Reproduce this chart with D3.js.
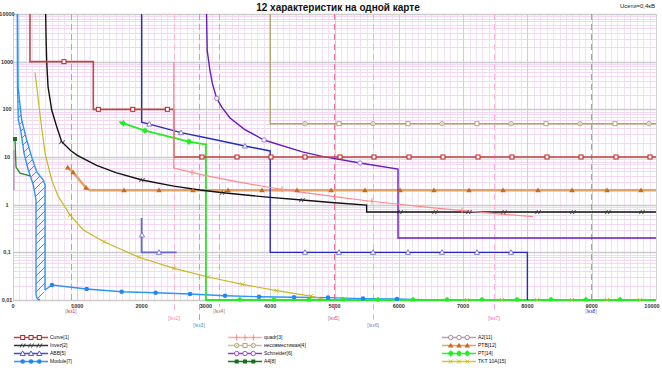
<!DOCTYPE html>
<html><head><meta charset="utf-8">
<script src="https://cdn.jsdelivr.net/npm/d3@7"></script>
<style>html,body{margin:0;padding:0;background:#fff;} svg{display:block;font-family:"Liberation Sans",Arial,sans-serif;}</style>
</head><body><svg id="c" width="662" height="372"></svg>
<script>
// ---------------- DATA ----------------
const TITLE = "12 характеристик на одной карте";
const SUBTITLE = "Uсети=0,4кВ";
const X_TICKS = [0,1000,2000,3000,4000,5000,6000,7000,8000,9000,10000];
const X_LABELS = ["0","1000","2000","3000","4000","5000","6000","7000","8000","9000","10000"];
const Y_TICKS = [0.01,0.1,1,10,100,1000,10000];
const Y_LABELS = ["0,01","0,1","1","10","100","1000","10000"];
const IKZ_NAMES = ["Iкз1","Iкз2","Iкз3","Iкз4","Iкз5","Iкз6","Iкз7","Iкз8"];
const IKZ_VALUES = [902,2504,2893,3204,4985,5600,7480,8990];

const curve1 = [[264,10000],[264,1000],[1249,1000],[1249,100],[2500,100],[2500,10],[10000,10]];
const curve1M = [[793,1000],[1327,100],[1862,100],[2400,100],[2939,10],[3484,10],[4012,10],[4541,10],[5086,10],[5614,10],[6159,10],[6687,10],[7232,10],[7760,10],[8305,10],[8834,10],[9378,10],[9907,10]];
const inverz2 = [[508,10000],[515,3000],[524,1000],[545,300],[602,96.6],[680,43],[757,21],[900,13.5],[1000,10.8],[1300,6.7],[1600,4.7],[2006,3.29],[2500,2.45],[2908,2.03],[3266,1.78],[3500,1.65],[4000,1.42],[4494,1.25],[5000,1.1],[5500,0.98],[5500,0.7],[10000,0.7]];
const inverz2M = [[762,20.5],[2006,3.29],[3266,1.78],[4494,1.25],[6019,0.7],[6563,0.7],[7092,0.7],[7636,0.7],[8165,0.7],[8709,0.7],[9253,0.7],[9782,0.7]];
const quadr3 = [[2500,1000],[2500,5.87],[3000,4.08],[3500,3.0],[4000,2.29],[4500,1.81],[5000,1.47],[5500,1.21],[6000,1.02],[6500,0.87],[7000,0.75],[7500,0.65],[8087,0.56]];
const quadr3M = [[2784,4.74],[4184,2.10],[5583,1.18],[6983,0.75]];
const nesov4 = [[4000,10000],[4000,50],[10000,50]];
const nesov4M = [[4541,50],[5070,50],[5599,50],[6143,50],[6672,50],[7216,50],[7745,50],[8289,50],[8818,50],[9362,50],[9891,50]];
const abb5 = [[2000,10000],[2000,54],[2120,49],[2613,32.4],[3000,25.3],[3608,17],[4000,13.4],[4000,0.1],[8000,0.1],[8000,0.01]];
const abb5b = [[2000,0.525],[2000,0.1],[2545,0.1]];
const abb5M = [[2120,49],[2613,32.4],[3608,17],[2006,0.231],[2271,0.1],[4541,0.1],[5070,0.1],[5599,0.1],[6143,0.1],[6672,0.1],[7216,0.1],[7745,0.1]];
const schneider6 = [[3010,10000],[3020,1750],[3060,700],[3100,350],[3168,170],[3250,110],[3375,65.8],[3600,38],[3904,22.7],[4500,12.8],[4826,10.2],[5397,7.48],[5988,5.6],[5988,0.2],[10000,0.2]];
const schneider6M = [[3168,170],[3904,22.7],[5397,7.48]];
const module7 = [[498,0.0162],[606,0.0207],[1146,0.017],[1690,0.0149],[2219,0.0142],[2753,0.0134],[3297,0.0123],[3826,0.0117],[4370,0.0114],[4899,0.0112],[5443,0.0107],[5972,0.0105],[6516,0.01]];
const module7M = [[606,0.0207],[1146,0.017],[1690,0.0149],[2219,0.0142],[2753,0.0134],[3297,0.0123],[3826,0.0117],[4370,0.0114],[4899,0.0112],[5443,0.0107],[5972,0.0105]];
const module7Min = [[67,10000],[70,300],[82,60],[120,36.8],[171,12.1],[238,5.33],[316,2.58],[358,1.25],[358,0.0127],[380,0.0105],[420,0.01]];
const module7Max = [[72,10000],[78,300],[135,59.7],[213,22.7],[291,10],[369,4.84],[471,3.29],[498,2.6],[498,0.0162]];
const a4_8 = [[31,23.8],[47,6.17],[109,4.6],[264,4.0]];
const a4_8M = [[31,23.8]];
const a2_11 = [[15,14],[15,2]];
const a2_11M = [];
const ptb12 = [[851,6.0],[933,4.8],[1135,2.26],[1200,2],[10000,2]];
const ptb12M = [[851,6.0],[933,4.8],[1135,2.26],[1726,2],[2271,2],[2799,2],[3344,2],[3872,2],[4417,2],[4946,2],[5474,2],[6019,2],[6547,2],[7092,2],[7621,2],[8165,2],[8694,2],[9238,2],[9767,2]];
const pt14 = [[1653,54.9],[1715,50.8],[2053,35.6],[2737,20.9],[2986,18.5],[3000,18.5],[3000,0.01],[10000,0.01]];
const pt14M = [[1715,50.8],[2053,35.6],[2737,20.9],[3530,0.01],[4059,0.01],[4603,0.01],[5132,0.01],[5677,0.01],[6221,0.01],[6750,0.01],[7294,0.01],[7838,0.01],[8367,0.01],[8911,0.01],[9440,0.01]];
const tkt15 = [[342,598],[431,59.7],[498,12.1],[602,3.29],[705,1.47],[886,0.607],[1093,0.294],[1415,0.167],[1960,0.0787],[2504,0.0462],[3037,0.0304],[3566,0.0213],[4101,0.0157],[4635,0.0121],[4879,0.01],[10000,0.01]];
const tkt15M = [[886,0.607],[1415,0.167],[1960,0.0787],[2504,0.0462],[3037,0.0304],[3566,0.0213],[4101,0.0157],[4635,0.0121],[7060,0.01],[7605,0.01],[8150,0.01],[8694,0.01],[9238,0.01],[9751,0.01]];

const LEGEND_NAMES = ["Curve[1]","Invez[2]","ABB[5]","Module[7]","quadr[3]","несовместимая[4]","Schneider[6]","A4[8]","A2[11]","PTB[12]","PT[14]","TKT 10A[15]"];

// ---------------- STYLE ----------------
const svg = d3.select('#c');
const L=13,R=656,T=14,B=300;
const x = d3.scaleLinear().domain([0,10000]).range([L,R]);
const y = d3.scaleLog().domain([0.01,10000]).range([B,T]);
const px = v => Math.round(x(v))+0.5;
const py = v => Math.round(y(v))+0.5;

const defs = svg.append('defs');
defs.append('clipPath').attr('id','clip').append('rect').attr('x',L).attr('y',T-1).attr('width',R-L+2).attr('height',B-T+2.5);
const pat = defs.append('pattern').attr('id','hatch').attr('patternUnits','userSpaceOnUse').attr('width',8).attr('height',8);
pat.append('path').attr('d','M-2,2 L2,-2 M0,8 L8,0 M6,10 L10,6').attr('stroke','#2d95f5').attr('stroke-width',1);

// grid
const gGrid = svg.append('g');
const minorX = d3.range(100,10000,100).filter(v=>v%1000!==0);
gGrid.selectAll('.mx').data(minorX).join('line').attr('x1',px).attr('x2',px).attr('y1',T).attr('y2',B).attr('stroke','#f2e0f8').attr('stroke-width',1);
const minorY=[]; Y_TICKS.slice(0,-1).forEach(d=>{for(let k=2;k<10;k++) minorY.push(d*k);});
gGrid.selectAll('.my').data(minorY).join('line').attr('x1',L).attr('x2',R).attr('y1',py).attr('y2',py).attr('stroke','#f3d8f3').attr('stroke-width',1);
gGrid.selectAll('.Mx').data(X_TICKS).join('line').attr('x1',px).attr('x2',px).attr('y1',T).attr('y2',B).attr('stroke','#d0d0d0').attr('stroke-width',1);
gGrid.selectAll('.My').data(Y_TICKS).join('line').attr('x1',L).attr('x2',R).attr('y1',py).attr('y2',py).attr('stroke','#cccccc').attr('stroke-width',1.3);

// axis labels
svg.append('g').selectAll('text').data(X_TICKS).join('text').attr('x',d=>Math.min(x(d),652)).attr('y',307.5).attr('text-anchor','middle')
  .attr('font-size',5.5).attr('font-weight','bold').attr('fill','#333').text((d,i)=>X_LABELS[i]);
svg.append('g').selectAll('text').data(Y_TICKS).join('text').attr('x',7).attr('y',d=>y(d)+2).attr('text-anchor','middle')
  .attr('font-size',5.5).attr('font-weight','bold').attr('fill','#333').text((d,i)=>Y_LABELS[i]);

// Ikz lines
const ikzStyle = [
 {c:'#f28a8a',t:'#e02a2a',row:0},{c:'#ffb6cc',t:'#ff88aa',row:1},{c:'#8fbcb6',t:'#3a9e9a',row:2},{c:'#d9b395',t:'#b4713c',row:0},
 {c:'#f2709c',t:'#ff2f86',row:1},{c:'#c4c4f2',t:'#8080e0',row:2},{c:'#ffaee6',t:'#ff60cc',row:1},{c:'#9a9af0',t:'#2828cc',row:0}];
const rowY=[310.5,318,325];
const gI = svg.append('g');
IKZ_VALUES.forEach((v,i)=>{
  const s=ikzStyle[i], xx=px(v);
  gI.append('line').attr('x1',xx).attr('x2',xx).attr('y1',T).attr('y2',rowY[s.row]-4).attr('stroke',s.c).attr('stroke-width',1).attr('stroke-dasharray','6,4');
  const t=gI.append('text').attr('x',x(v)).attr('y',rowY[s.row]+2).attr('text-anchor','middle').attr('font-size',5);
  t.append('tspan').attr('fill','#888').text('[');
  t.append('tspan').attr('fill',s.t).text(IKZ_NAMES[i]);
  t.append('tspan').attr('fill','#888').text(']');
});

// markers
function marker(g,type,cx,cy,color,idx){
  const s=g.append('g').attr('transform',`translate(${cx},${cy})`);
  switch(type){
    case 'sq': s.append('rect').attr('x',-2).attr('y',-2).attr('width',4).attr('height',4).attr('fill','#fff').attr('stroke',color).attr('stroke-width',1);break;
    case 'hash': s.append('path').attr('d','M-2.5,2 L-0.5,-2 M0.5,2 L2.5,-2').attr('stroke',color).attr('stroke-width',0.9).attr('fill','none');break;
    case 'tri': s.append('path').attr('d','M0,-2.6 L2.6,2 L-2.6,2Z').attr('fill','#fff').attr('stroke',color).attr('stroke-width',0.9);break;
    case 'dot': s.append('circle').attr('r',2.3).attr('fill',color);break;
    case 'plus': s.append('path').attr('d','M0,-3 L0,3 M-1.5,0 L1.5,0').attr('stroke',color).attr('stroke-width',1);break;
    case 'sqc': if(idx%2===0){s.append('circle').attr('r',2.2).attr('fill','#fff').attr('stroke',color).attr('stroke-width',0.9);s.append('path').attr('d','M-1.3,-1.3L1.3,1.3M-1.3,1.3L1.3,-1.3').attr('stroke',color).attr('stroke-width',0.6);}
                else s.append('rect').attr('x',-2).attr('y',-2).attr('width',4).attr('height',4).attr('fill','#fff').attr('stroke',color).attr('stroke-width',0.9);break;
    case 'circ': s.append('circle').attr('r',2.2).attr('fill','#fff').attr('stroke',color).attr('stroke-width',0.9);break;
    case 'sqf': s.append('rect').attr('x',-2).attr('y',-2).attr('width',4).attr('height',4).attr('fill',color);break;
    case 'trif': s.append('path').attr('d','M0,-2.8 L2.8,2 L-2.8,2Z').attr('fill',color);break;
    case 'star': s.append('circle').attr('r',2.4).attr('fill',color);s.append('path').attr('d','M0,-3.2L0,3.2M-3.2,0L3.2,0').attr('stroke',color).attr('stroke-width',1);break;
    case 'x': s.append('path').attr('d','M-2,-2 L2,2 M-2,2 L2,-2').attr('stroke',color).attr('stroke-width',0.9);break;
  }
}

const line = d3.line().x(d=>x(d[0])).y(d=>y(d[1]));
const gS = svg.append('g').attr('clip-path','url(#clip)');

// Module hatch area
const area = module7Min.concat(module7Max.slice().reverse());
gS.append('path').attr('d',line(area)+'Z').attr('fill','url(#hatch)').attr('stroke','none');
gS.append('path').attr('d',line(module7Min)).attr('fill','none').attr('stroke','#2d95f5').attr('stroke-width',1.4);
gS.append('path').attr('d',line(module7Max)).attr('fill','none').attr('stroke','#2d95f5').attr('stroke-width',1.4);

const series = [
 {d:[a2_11],m:a2_11M,c:'#a88aa8',mc:'#a08090',w:1.2,t:'circ'},
 {d:[a4_8],m:a4_8M,c:'#228b22',mc:'#1a6e1a',w:1.3,t:'sqf'},
 {d:[module7],m:module7M,c:'#2d95f5',mc:'#1e88f0',w:1.4,t:'dot'},
 {d:[tkt15],m:tkt15M,c:'#c8b820',mc:'#c8b820',w:1.2,t:'x'},
 {d:[pt14],m:pt14M,c:'#22ee22',mc:'#22ee22',w:1.8,t:'star'},
 {d:[ptb12],m:ptb12M,c:'#e3a267',mc:'#cc6a18',w:2.4,t:'trif'},
 {d:[schneider6],m:schneider6M,c:'#6a1cc0',mc:'#9a70c8',w:1.4,t:'circ'},
 {d:[abb5],m:[],c:'#2a2ac0',mc:'#6a6ad0',w:1.4,t:'tri'},
 {d:[abb5b],m:abb5M,c:'#6a6ad6',mc:'#7070d0',w:1.8,t:'tri'},
 {d:[nesov4],m:nesov4M,c:'#b0a466',mc:'#b0a070',w:1.4,t:'sqc'},
 {d:[inverz2],m:inverz2M,c:'#111',mc:'#333',w:1.4,t:'hash'},
 {d:[curve1],m:curve1M,c:'#c44444',mc:'#c02020',w:1.6,t:'sq'},
 {d:[quadr3],m:quadr3M,c:'#ff8a8a',mc:'#ff8a8a',w:1.2,t:'plus'}
];
series.forEach(s=>{
  s.d.forEach(seg=>gS.append('path').attr('d',line(seg)).attr('fill','none').attr('stroke',s.c).attr('stroke-width',s.w).attr('stroke-linejoin','miter'));
});
series.forEach(s=>{
  const g=gS.append('g');
  s.m.forEach((p,i)=>marker(g,s.t,x(p[0]),y(p[1]),s.mc,i));
});

// title
svg.append('text').attr('x',338).attr('y',11).attr('text-anchor','middle').attr('font-size',10).attr('font-weight','bold').attr('fill','#111').text(TITLE);
svg.append('text').attr('x',655).attr('y',8).attr('text-anchor','end').attr('font-size',6).attr('fill','#222').text(SUBTITLE);

// legend
const legStyle = [
 {c:'#c44444',mc:'#c02020',t:'sq'},{c:'#333',mc:'#333',t:'hash'},{c:'#4a4ad0',mc:'#4a4ad0',t:'tri'},{c:'#2d95f5',mc:'#1e88f0',t:'dot'},
 {c:'#ffaaaa',mc:'#ff8a8a',t:'plus'},{c:'#c8bf98',mc:'#b0a070',t:'sqc'},{c:'#9040d0',mc:'#9040d0',t:'circ'},{c:'#1a7a1a',mc:'#1a6e1a',t:'sqf'},
 {c:'#b8a0b8',mc:'#a08090',t:'circ'},{c:'#e3a267',mc:'#cc6a18',t:'trif'},{c:'#33ee33',mc:'#22ee22',t:'star'},{c:'#cccc33',mc:'#c8b820',t:'x'}];
const colX=[14,228,442], rowsY=[337,345,353,361];
const gL=svg.append('g');
LEGEND_NAMES.forEach((n,i)=>{
  const col=Math.floor(i/4), row=i%4, s=legStyle[i];
  const x0=colX[col], yy=rowsY[row];
  gL.append('line').attr('x1',x0).attr('x2',x0+34).attr('y1',yy+0.5).attr('y2',yy+0.5).attr('stroke',s.c).attr('stroke-width',1.3);
  [8.7,17,25.3].forEach((o,k)=>marker(gL,s.t,x0+o,yy+0.5,s.mc,k));
  gL.append('text').attr('x',x0+36).attr('y',yy+2).attr('font-size',5).attr('fill','#111').text(n);
});
</script></body></html>
